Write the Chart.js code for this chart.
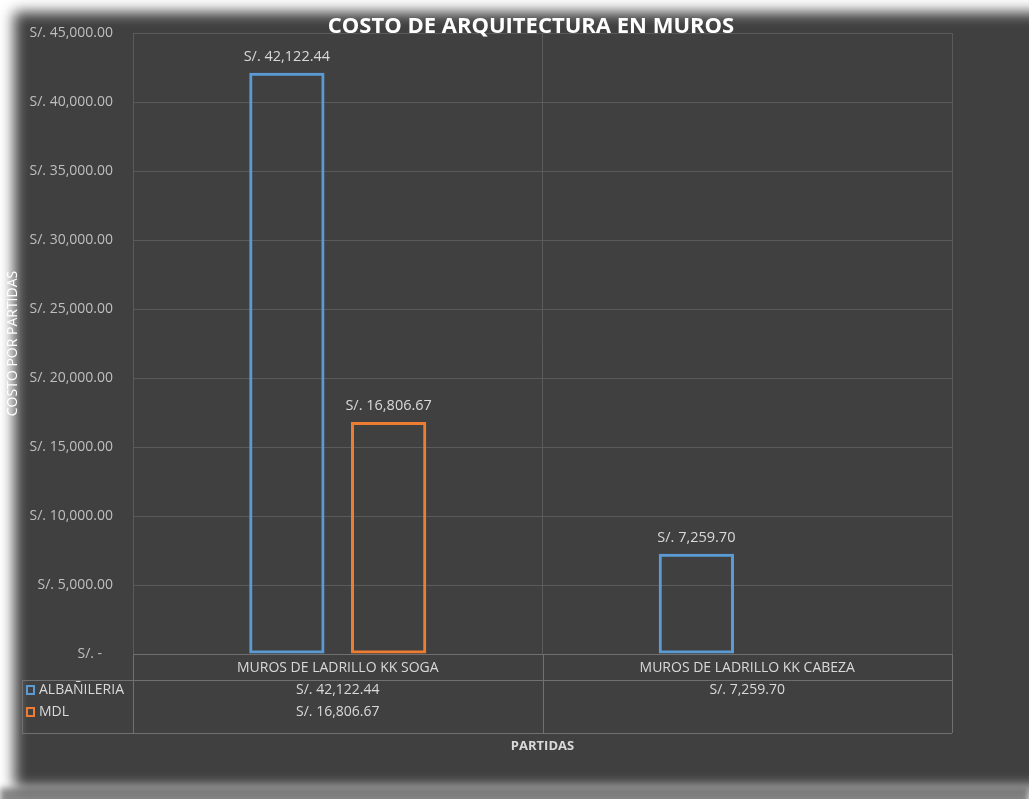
<!DOCTYPE html>
<html lang="es">
<head>
<meta charset="utf-8">
<title>Costo de arquitectura en muros</title>
<script src="https://cdn.jsdelivr.net/npm/chart.js@4/dist/chart.umd.min.js"></script>
<style>
  html, body { margin: 0; padding: 0; background: #ffffff; }
  #wrap { position: relative; width: 1029px; height: 799px; overflow: hidden; }
  #shade { position: absolute; left: 0; top: 788px; width: 1029px; height: 20px; background: #888888; filter: blur(3px); }
  #panel { position: absolute; left: 14px; top: 12px; width: 1040px; height: 776px; background: #404040; filter: blur(7px); }
  #c { position: absolute; left: 0; top: 0; }
</style>
</head>
<body>
<div id="wrap">
  <div id="shade"></div>
  <div id="panel"></div>
  <canvas id="c" width="1029" height="799"></canvas>
</div>
<script>
// Partidas y costos por especialidad
const categories = ['MUROS DE LADRILLO KK SOGA', 'MUROS DE LADRILLO KK CABEZA'];
const seriesNames = ['ALBAÑILERIA', 'MDL'];
const albanileria = [42122.44, 7259.70];
const mdl = [16806.67, null];
const yTickValues = [0, 5000, 10000, 15000, 20000, 25000, 30000, 35000, 40000, 45000];

const chartTitle = 'COSTO DE ARQUITECTURA EN MUROS';
const yTitle = 'COSTO POR PARTIDAS';
const xTitle = 'PARTIDAS';

const BLUE = '#5B9BD5';
const ORANGE = '#ED7D31';
const FONT = '"Open Sans", "Liberation Sans", sans-serif';

function soles(v) {
  if (v === 0) return 'S/. -   ';
  return 'S/. ' + v.toLocaleString('en-US', { minimumFractionDigits: 2, maximumFractionDigits: 2 });
}

// Value labels above each bar
const barLabels = {
  id: 'barLabels',
  afterDatasetsDraw(chart) {
    const ctx = chart.ctx;
    ctx.save();
    ctx.font = '14.5px ' + FONT;
    ctx.fillStyle = '#d9d9d9';
    ctx.textAlign = 'center';
    ctx.textBaseline = 'middle';
    chart.data.datasets.forEach((ds, i) => {
      chart.getDatasetMeta(i).data.forEach((bar, j) => {
        const v = ds.data[j];
        if (v === null || v === undefined) return;
        ctx.fillText(soles(v), bar.x, bar.y - 16);
      });
    });
    ctx.restore();
  }
};

// Data table under the plot, plus the chart heading
const dataTable = {
  id: 'dataTable',
  afterDraw(chart) {
    const ctx = chart.ctx;
    const xs = chart.scales.x;
    const area = chart.chartArea;
    const n = categories.length;
    const step = (xs.right - xs.left) / n;
    const top = area.bottom;
    const row1 = top + 26;
    const rowH = 22;
    const bottom = row1 + rowH * seriesNames.length + 9;
    const tableLeft = 22;

    ctx.save();
    ctx.strokeStyle = '#707070';
    ctx.lineWidth = 1;
    ctx.beginPath();
    // horizontal rules
    ctx.moveTo(xs.left, top + 0.5); ctx.lineTo(xs.right, top + 0.5);
    ctx.moveTo(tableLeft, row1 + 0.5); ctx.lineTo(xs.right, row1 + 0.5);
    ctx.moveTo(tableLeft, bottom + 0.5); ctx.lineTo(xs.right, bottom + 0.5);
    // vertical rules
    ctx.moveTo(tableLeft + 0.5, row1); ctx.lineTo(tableLeft + 0.5, bottom);
    for (let i = 0; i <= n; i++) {
      const x = Math.round(xs.left + step * i) + 0.5;
      ctx.moveTo(x, top); ctx.lineTo(x, bottom);
    }
    ctx.stroke();

    ctx.font = '14px ' + FONT;
    ctx.fillStyle = '#d9d9d9';
    ctx.textBaseline = 'middle';
    ctx.textAlign = 'center';
    categories.forEach((c, i) => {
      ctx.fillText(c, xs.getPixelForValue(i), top + 14);
    });

    const rows = [albanileria, mdl];
    const colors = [BLUE, ORANGE];
    rows.forEach((vals, r) => {
      const y = row1 + 10 + r * rowH;
      ctx.textAlign = 'center';
      ctx.fillStyle = '#d9d9d9';
      vals.forEach((v, i) => {
        if (v === null) return;
        ctx.fillText(soles(v), xs.getPixelForValue(i), y);
      });
      // legend key
      ctx.strokeStyle = colors[r];
      ctx.lineWidth = 2;
      ctx.strokeRect(27, y - 4, 7, 8);
      ctx.textAlign = 'left';
      ctx.fillStyle = '#d9d9d9';
      ctx.fillText(seriesNames[r], 39, y);
    });

    ctx.font = 'bold 22px ' + FONT;
    ctx.fillStyle = '#ffffff';
    ctx.textAlign = 'center';
    ctx.fillText(chartTitle, 531, 27);
    ctx.restore();
  }
};

new Chart(document.getElementById('c'), {
  type: 'bar',
  data: {
    labels: categories,
    datasets: [
      {
        label: seriesNames[0],
        data: albanileria,
        backgroundColor: 'rgba(0,0,0,0)',
        borderColor: BLUE,
        borderWidth: 3,
        borderSkipped: false,
        categoryPercentage: 0.497,
        barPercentage: 0.74
      },
      {
        label: seriesNames[1],
        data: mdl,
        backgroundColor: 'rgba(0,0,0,0)',
        borderColor: ORANGE,
        borderWidth: 3,
        borderSkipped: false,
        categoryPercentage: 0.497,
        barPercentage: 0.74
      }
    ]
  },
  options: {
    responsive: false,
    animation: false,
    devicePixelRatio: 1,
    layout: { padding: { top: 33, right: 77, bottom: 0, left: 0 } },
    plugins: {
      legend: { display: false },
      tooltip: { enabled: false },
      title: { display: false }
    },
    scales: {
      x: {
        afterFit(s) { s.height = 145; },
        ticks: { display: false },
        grid: { offset: true, color: '#5a5a5a', drawTicks: false },
        border: { color: '#707070' },
        title: {
          display: true,
          text: xTitle,
          color: '#d9d9d9',
          font: { family: FONT, size: 13, weight: 'bold' },
          padding: { top: 0, bottom: 45 }
        }
      },
      y: {
        min: 0,
        max: 45000,
        afterFit(s) { s.width = 133; },
        afterBuildTicks(s) { s.ticks = yTickValues.map(v => ({ value: v })); },
        ticks: {
          color: '#bfbfbf',
          padding: 20,
          font: { family: FONT, size: 14 },
          callback: v => soles(v)
        },
        grid: { color: '#5a5a5a', drawTicks: false },
        border: { color: '#5a5a5a' },
        title: {
          display: true,
          text: yTitle,
          color: '#ffffff',
          font: { family: FONT, size: 14 },
          padding: { top: 5, bottom: 0 }
        }
      }
    }
  },
  plugins: [barLabels, dataTable]
});
</script>
</body>
</html>
